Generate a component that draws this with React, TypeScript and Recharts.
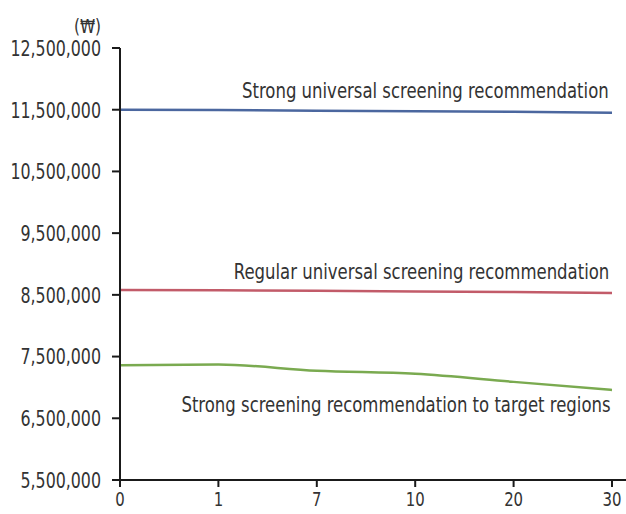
import { Line, LineChart, XAxis, YAxis } from "recharts"

const days = ["0", "1", "7", "10", "20", "30"]
const strongUniversal = [11500000, 11495000, 11485000, 11475000, 11465000, 11450000]
const regularUniversal = [8580000, 8575000, 8565000, 8555000, 8545000, 8530000]
const targetRegions = [7360000, 7370000, 7270000, 7220000, 7090000, 6960000]
const yTicks = [5500000, 6500000, 7500000, 8500000, 9500000, 10500000, 11500000, 12500000]

const data = days.map((day, i) => ({
  day,
  strong: strongUniversal[i],
  regular: regularUniversal[i],
  target: targetRegions[i],
}))

const font = "'DejaVu Sans Condensed', sans-serif"
const textColor = "#333"
const axisColor = "#1a1a1a"

// narrow the glyphs so they look like the condensed face in the original
const YTick = ({ x, y, payload }: any) => (
  <text
    transform={`translate(${x},${y}) scale(0.8,1)`}
    textAnchor="end"
    dy="0.36em"
    fill={textColor}
    fontSize={22}
    fontFamily={font}
  >
    {Number(payload.value).toLocaleString("en-US")}
  </text>
)

const XTick = ({ x, y, payload }: any) => (
  <text
    transform={`translate(${x},${y}) scale(0.85,1)`}
    textAnchor="middle"
    dy="0.73em"
    fill={textColor}
    fontSize={19.5}
    fontFamily={font}
  >
    {payload.value}
  </text>
)

const labelStyle = {
  position: "absolute" as const,
  right: 17,
  fontFamily: font,
  fontSize: 22,
  lineHeight: "22px",
  color: textColor,
  whiteSpace: "nowrap" as const,
  transform: "scaleX(0.834)",
  transformOrigin: "right center",
}

function App() {
  return (
    <div style={{ position: "absolute", left: 0, top: 0, width: 626, height: 514 }}>
      <LineChart
        width={626}
        height={514}
        data={data}
        margin={{ top: 48, right: 0, bottom: 0, left: 0 }}
      >
        <XAxis
          dataKey="day"
          padding={{ left: 0, right: 14 }}
          axisLine={{ stroke: axisColor, strokeWidth: 2 }}
          tickLine={{ stroke: axisColor, strokeWidth: 2 }}
          tickSize={7}
          tickMargin={5}
          height={34}
          tick={<XTick />}
        />
        <YAxis
          domain={[5500000, 12500000]}
          ticks={yTicks}
          width={120}
          axisLine={{ stroke: axisColor, strokeWidth: 2 }}
          tickLine={{ stroke: axisColor, strokeWidth: 2 }}
          tickSize={8}
          tickMargin={11}
          tick={<YTick />}
        />
        <Line dataKey="strong" stroke="#4b679f" strokeWidth={2.5} dot={false} isAnimationActive={false} />
        <Line dataKey="regular" stroke="#c25b69" strokeWidth={2.5} dot={false} isAnimationActive={false} />
        <Line
          type="monotone"
          dataKey="target"
          stroke="#7aaa50"
          strokeWidth={2.5}
          dot={false}
          isAnimationActive={false}
        />
      </LineChart>
      <div style={{ ...labelStyle, top: 80 }}>Strong universal screening recommendation</div>
      <div style={{ ...labelStyle, top: 261 }}>Regular universal screening recommendation</div>
      <div style={{ ...labelStyle, top: 394, right: 15 }}>Strong screening recommendation to target regions</div>
      <div
        style={{
          position: "absolute",
          left: 74,
          top: 16,
          fontFamily: font,
          fontSize: 20,
          lineHeight: "20px",
          color: textColor,
          transform: "scaleX(0.85)",
          transformOrigin: "left center",
        }}
      >
        (₩)
      </div>
    </div>
  )
}

export default App
